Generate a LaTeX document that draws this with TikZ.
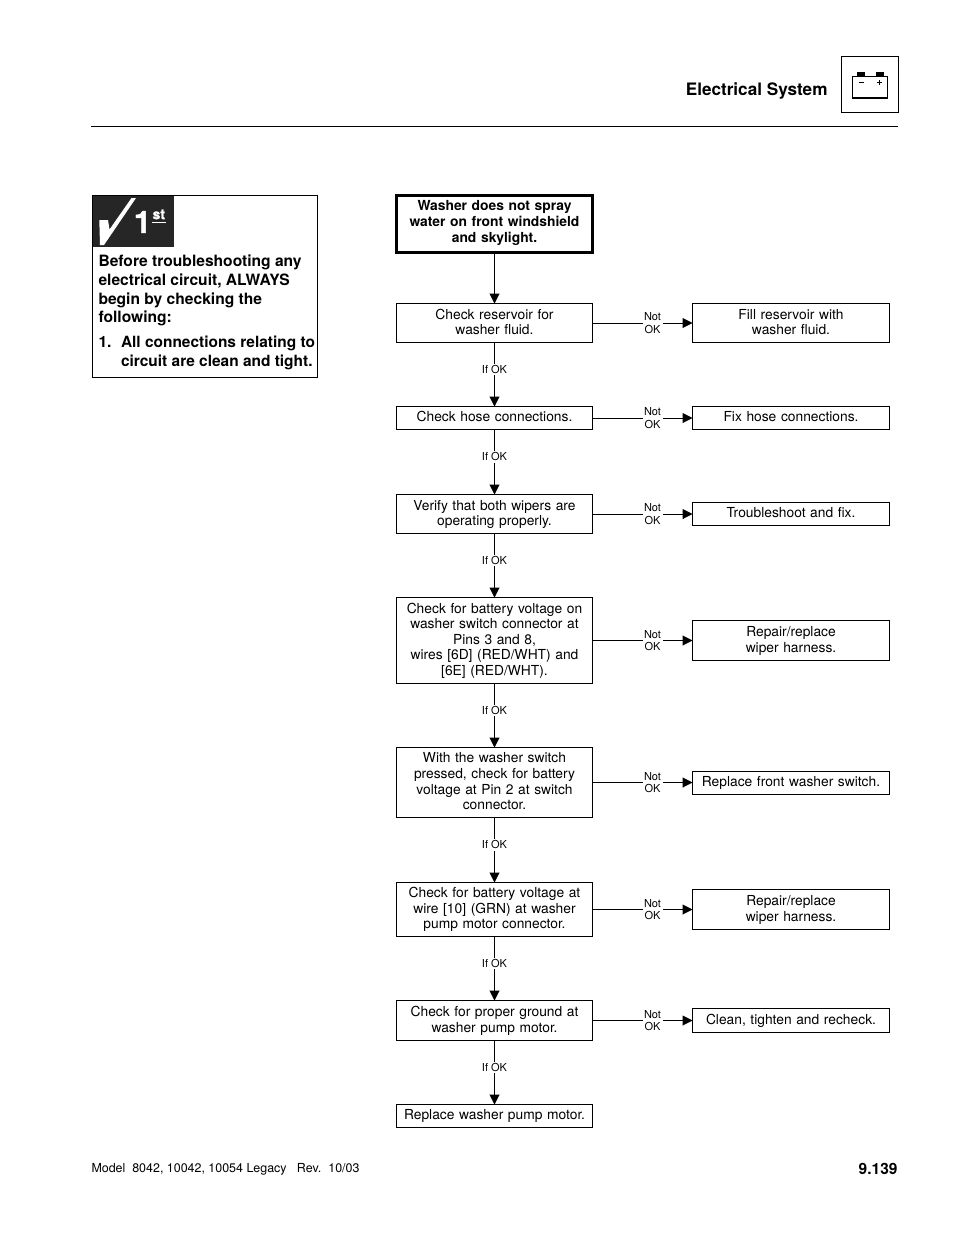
\documentclass[tikz,border=0pt]{standalone}
\usepackage{fontspec}
\setmainfont{TeX Gyre Heros}
\newfontfamily\badgefont[BoldFeatures={FakeBold=1.5}]{TeX Gyre Heros}
\usetikzlibrary{positioning,arrows.meta}
\newcommand{\connectok}[3][0.42]{%
  \draw[->] (#2.south) -- node[pos=#1, link] {If OK} (#3.north)}
\newcommand{\connectnot}[2]{%
  \draw[->] (#1.east) -- node[pos=0.6, link] {Not\\OK} (#2.west)}
\newcommand{\boxstrut}{\rule[-3.6pt]{0pt}{14.8pt}}
\newcommand{\startstrut}{\rule[-5.6pt]{0pt}{1pt}}

\begin{document}
\begin{tikzpicture}[x=1pt, y=-1pt,
    check/.style={rectangle, draw, line width=1pt, outer sep=0pt, inner sep=1pt,
      text width=194pt, minimum width=196pt, align=center,
      execute at begin node=\boxstrut, execute at end node=\boxstrut,
      font=\fontsize{13.8}{15.6}\selectfont},
    fix/.style={check, text width=195pt, minimum width=197pt},
    link/.style={fill=white, inner sep=1.5pt, align=center,
      font=\fontsize{11}{12.4}\selectfont},
    note/.style={anchor=north west, inner sep=0pt, align=left,
      font=\bfseries\fontsize{15.6}{18.7}\selectfont},
    >={Stealth[length=10pt, width=10pt, inset=0pt]}, line width=1pt]
  \useasboundingbox (0,0) rectangle (954,1235);

  % page header
  \node[anchor=east, inner sep=0pt, font=\bfseries\fontsize{17.15}{20}\selectfont]
    (title) at (828,90.5) {Electrical System};
  \node[draw, outer sep=0pt, minimum width=57pt, minimum height=56pt] (iconbox) at (869.5,84) {};
  \draw[line width=1pt] (852.5,76.5) rectangle (887.5,98);
  \draw[line width=2pt] (852.5,98) -- (887.5,98);
  \fill (857.3,72) rectangle (865,76.5);
  \fill (876,72) rectangle (883.7,76.5);
  \draw[line width=0.7pt] (858.5,82.7) -- (863.5,82.7);
  \draw[line width=0.7pt] (877.2,82.5) -- (882.2,82.5) (879.7,80) -- (879.7,85);
  \draw (91,126.5) -- (898,126.5);

  % first check note
  \node[draw, outer sep=0pt, minimum width=225.5pt, minimum height=182.5pt] (notebox) at (205,286.3) {};
  \fill[black!85] (92.5,195.5) rectangle (174,247);
  \fill[white] (99.3,220) -- (108,220) -- (109.5,229.5) -- (131.5,198) -- (136,198)
    -- (104,245) -- (100,245) -- cycle;
  \node[inner sep=0pt, text=white, font=\badgefont\bfseries\fontsize{31}{31}\selectfont] (one) at (142.5,222) {1};
  \node[inner sep=0pt, text=white, font=\badgefont\bfseries\fontsize{14}{14}\selectfont] (st) at (158.8,214.5) {st};
  \draw[white, line width=1pt] (151.5,222.5) -- (166,222.5);
  \node[note] (before) at (98,254.6) {Before troubleshooting any\\electrical circuit, ALWAYS\\begin by checking the\\following:};
  \node[note] (num) at (98,336.4) {1.};
  \node[note, font=\bfseries\fontsize{15.45}{18.7}\selectfont] (item) at (120.5,335.8) {All connections relating to\\circuit are clean and tight.};

  % left column
  \node[check, line width=3pt, minimum height=57pt, font=\bfseries\fontsize{13.85}{15.9}\selectfont,
    execute at end node=\startstrut]
    (start) at (494.5,223.5) {Washer does not spray\\water on front windshield\\and skylight.};
  \node[check, minimum height=39pt, below=51.5pt of start] (c1) {Check reservoir for\\washer fluid.};
  \node[check, minimum height=23pt, below=64pt of c1] (c2) {Check hose connections.};
  \node[check, minimum height=39pt, below=65pt of c2] (c3) {Verify that both wipers are\\operating properly.};
  \node[check, minimum height=86pt, below=64pt of c3] (c4) {Check for battery voltage on\\washer switch connector at\\Pins 3 and 8,\\wires [6D] (RED/WHT) and\\{[6E]} (RED/WHT).};
  \node[check, minimum height=70pt, below=64pt of c4] (c5) {With the washer switch\\pressed, check for battery\\voltage at Pin 2 at switch\\connector.};
  \node[check, minimum height=54pt, below=65pt of c5] (c6) {Check for battery voltage at\\wire [10] (GRN) at washer\\pump motor connector.};
  \node[check, minimum height=40pt, below=64pt of c6] (c7) {Check for proper ground at\\washer pump motor.};
  \node[check, minimum height=23pt, below=64pt of c7] (c8) {Replace washer pump motor.};

  % right column
  \node[fix, minimum height=39pt, right=100pt of c1] (f1) {Fill reservoir with\\washer fluid.};
  \node[fix, minimum height=23pt, right=100pt of c2] (f2) {Fix hose connections.};
  \node[fix, minimum height=23pt, right=100pt of c3] (f3) {Troubleshoot and fix.};
  \node[fix, minimum height=40pt, right=100pt of c4] (f4) {Repair/replace\\wiper harness.};
  \node[fix, minimum height=23pt, right=100pt of c5] (f5) {Replace front washer switch.};
  \node[fix, minimum height=40pt, right=100pt of c6] (f6) {Repair/replace\\wiper harness.};
  \node[fix, minimum height=24pt, right=100pt of c7] (f7) {Clean, tighten and recheck.};

  % connectors
  \draw[->] (start.south) -- (c1.north);
  \connectok{c1}{c2};
  \connectok{c2}{c3};
  \connectok{c3}{c4};
  \connectok{c4}{c5};
  \connectok{c5}{c6};
  \connectok{c6}{c7};
  \connectok{c7}{c8};
  \connectnot{c1}{f1};
  \connectnot{c2}{f2};
  \connectnot{c3}{f3};
  \connectnot{c4}{f4};
  \connectnot{c5}{f5};
  \connectnot{c6}{f6};
  \connectnot{c7}{f7};

  % page footer
  \node[anchor=west, inner sep=0pt, font=\fontsize{12.45}{14}\selectfont]
    (model) at (91,1169) {Model\ \ 8042, 10042, 10054 Legacy\ \ \ Rev.\ \ 10/03};
  \node[anchor=east, inner sep=0pt, font=\bfseries\fontsize{15.5}{18}\selectfont]
    (page) at (898,1169) {9.139};
\end{tikzpicture}
\end{document}
